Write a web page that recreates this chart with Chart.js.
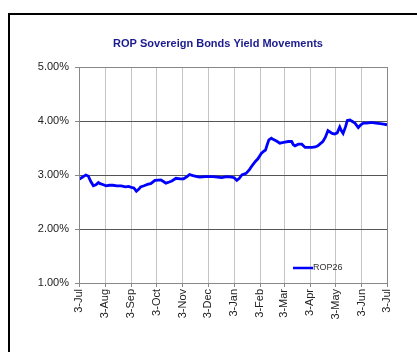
<!DOCTYPE html>
<html>
<head>
<meta charset="utf-8">
<script src="https://cdn.jsdelivr.net/npm/chart.js@4.4.1/dist/chart.umd.min.js"></script>
<style>
  html, body { margin: 0; padding: 0; background: #fff; overflow: hidden; }
  #wrap { position: relative; width: 417px; height: 352px; }
  #frame { position: absolute; left: 8px; top: 13px; width: 420px; height: 360px; border-left: 2px solid #000; border-top: 2px solid #000; box-sizing: border-box; pointer-events: none; }
  canvas { position: absolute; left: 0; top: 0; }
</style>
</head>
<body>
<div id="wrap">
  <canvas id="c" width="417" height="352"></canvas>
  <div id="frame"></div>
</div>
<script>
// Days since 3-Jul (start of period)
const days = [0, 3, 6, 8, 11, 14, 17, 20, 23, 25, 29, 32, 36, 40, 45, 50, 55, 59, 62, 65, 68, 71, 73, 77, 82, 85, 90, 97, 100, 103, 107, 110, 115, 120, 124, 128, 131, 135, 140, 143, 150, 159, 164, 169, 175, 181, 184, 187, 190, 193, 198, 202, 205, 209, 212, 216, 219, 221, 223, 225, 228, 230, 234, 238, 241, 244, 248, 252, 254, 256, 260, 264, 268, 272, 276, 280, 283, 286, 289, 292, 295, 297, 300, 303, 306, 309, 311, 313, 316, 318, 321, 324, 327, 329, 331, 334, 337, 341, 345, 348, 352, 357, 361, 365];
const yields = [2.92, 2.95, 2.98, 3.00, 2.98, 2.88, 2.80, 2.82, 2.86, 2.84, 2.82, 2.80, 2.81, 2.81, 2.80, 2.80, 2.78, 2.79, 2.77, 2.76, 2.70, 2.74, 2.78, 2.80, 2.83, 2.84, 2.90, 2.91, 2.88, 2.85, 2.87, 2.89, 2.94, 2.93, 2.93, 2.97, 3.01, 2.99, 2.97, 2.96, 2.97, 2.97, 2.96, 2.95, 2.97, 2.96, 2.95, 2.90, 2.94, 3.00, 3.03, 3.10, 3.17, 3.25, 3.30, 3.40, 3.44, 3.46, 3.56, 3.65, 3.68, 3.66, 3.63, 3.59, 3.60, 3.61, 3.62, 3.62, 3.56, 3.54, 3.57, 3.57, 3.51, 3.51, 3.51, 3.52, 3.54, 3.58, 3.62, 3.70, 3.82, 3.80, 3.77, 3.76, 3.78, 3.89, 3.82, 3.77, 3.90, 4.01, 4.02, 3.99, 3.96, 3.92, 3.88, 3.93, 3.96, 3.96, 3.97, 3.97, 3.96, 3.95, 3.94, 3.93];
const tickDays = [0, 31, 62, 92, 123, 153, 184, 215, 243, 274, 304, 335, 365];
const tickLabels = ["3-Jul", "3-Aug", "3-Sep", "3-Oct", "3-Nov", "3-Dec", "3-Jan", "3-Feb", "3-Mar", "3-Apr", "3-May", "3-Jun", "3-Jul"];
const yTicks = [1, 2, 3, 4, 5];
const seriesName = "ROP26";
const chartTitle = "ROP Sovereign Bonds Yield Movements";

const points = days.map((d, i) => ({ x: d, y: yields[i] }));

const extras = {
  id: 'extras',
  afterDraw(chart) {
    const ctx = chart.ctx;
    const a = chart.chartArea;
    ctx.save();
    // plot box
    ctx.strokeStyle = '#888888';
    ctx.lineWidth = 1;
    ctx.setLineDash([]);
    ctx.strokeRect(a.left + 0.5, a.top + 0.5, a.right - a.left, a.bottom - a.top);
    // title
    ctx.fillStyle = '#1b1b8f';
    ctx.font = 'bold 11px "Liberation Sans", Arial, sans-serif';
    ctx.textAlign = 'center';
    ctx.textBaseline = 'middle';
    ctx.fillText(chartTitle, 218, 44);
    // legend
    const ds = chart.data.datasets[0];
    ctx.strokeStyle = ds.borderColor;
    ctx.lineWidth = 2.5;
    ctx.beginPath();
    ctx.moveTo(293, 268);
    ctx.lineTo(313, 268);
    ctx.stroke();
    ctx.fillStyle = '#333333';
    ctx.font = '9px "Liberation Sans", Arial, sans-serif';
    ctx.textAlign = 'left';
    ctx.fillText(ds.label, 313, 268);
    ctx.restore();
  }
};

new Chart(document.getElementById('c'), {
  type: 'line',
  data: {
    datasets: [{
      label: seriesName,
      data: points,
      borderColor: '#0000ff',
      borderWidth: 2.8,
      pointRadius: 0,
      tension: 0,
      fill: false
    }]
  },
  options: {
    responsive: false,
    animation: false,
    devicePixelRatio: 1,
    layout: { padding: { top: 67, right: 30, bottom: 0, left: 0 } },
    plugins: { legend: { display: false }, title: { display: false }, tooltip: { enabled: false } },
    scales: {
      x: {
        type: 'linear',
        min: 0,
        max: 365,
        afterBuildTicks: (scale) => { scale.ticks = tickDays.map(v => ({ value: v })); },
        afterFit: (scale) => { scale.height = 69; },
        ticks: {
          autoSkip: false,
          minRotation: 90,
          maxRotation: 90,
          padding: 2,
          color: '#222222',
          font: { family: '"Liberation Sans", Arial, sans-serif', size: 11 },
          callback: (v) => { const i = tickDays.indexOf(v); return i >= 0 ? tickLabels[i] : ''; }
        },
        grid: {
          color: '#c4c4c4',
          borderDash: [2, 2],
          tickColor: '#888888',
          tickLength: 4,
          tickBorderDash: []
        },
        border: { color: '#888888', width: 1 }
      },
      y: {
        min: 1,
        max: 5,
        afterBuildTicks: (scale) => { scale.ticks = yTicks.map(v => ({ value: v })); },
        afterFit: (scale) => { scale.width = 79; },
        ticks: {
          padding: 6,
          color: '#222222',
          font: { family: '"Liberation Sans", Arial, sans-serif', size: 11 },
          callback: (v) => v.toFixed(2) + '%'
        },
        grid: {
          color: '#555555',
          borderDash: [1, 1],
          tickColor: '#888888',
          tickLength: 4,
          tickBorderDash: []
        },
        border: { color: '#888888', width: 1 }
      }
    }
  },
  plugins: [extras]
});
</script>
</body>
</html>
